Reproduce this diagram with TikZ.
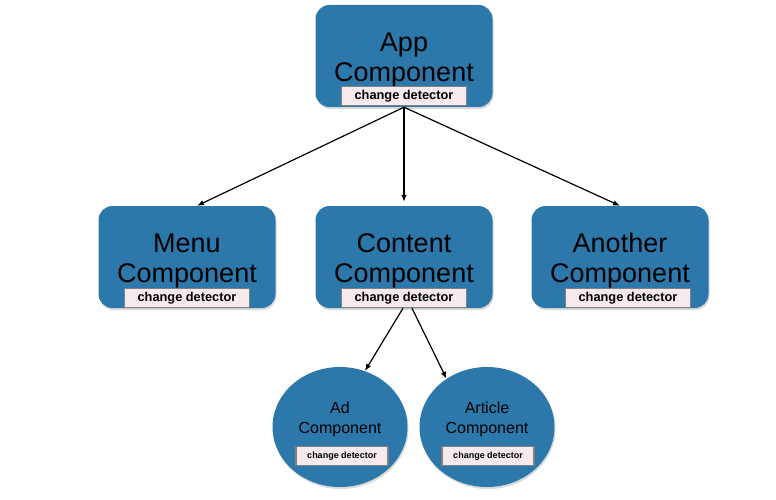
\documentclass[tikz,border=0pt]{standalone}
\usepackage{fontspec}
\setmainfont{Liberation Sans}
\usetikzlibrary{arrows.meta,shapes.geometric,shadows}
\definecolor{compblue}{RGB}{44,120,171}
\definecolor{cdpink}{RGB}{246,234,236}
\definecolor{cdgray}{RGB}{128,128,128}
\tikzset{
comp/.style={
  rectangle,
  rounded corners=14pt,
  fill=compblue,
  minimum width=177pt,
  minimum height=102pt,
  inner sep=0pt,
  drop shadow={opacity=0.3,shadow xshift=1pt,shadow yshift=-2pt}
  },
subcomp/.style={
  ellipse,
  fill=compblue,
  minimum width=135pt,
  minimum height=120pt,
  inner sep=0pt,
  drop shadow={opacity=0.3,shadow xshift=1pt,shadow yshift=-2pt}
  },
comptext/.style={
  align=center,
  inner sep=0pt,
  font=\fontsize{27}{30}\selectfont
  },
subtext/.style={
  align=center,
  inner sep=0pt,
  font=\fontsize{16}{19.5}\selectfont
  },
detector/.style={
  rectangle,
  draw=cdgray,
  line width=1.3pt,
  fill=cdpink,
  minimum width=125pt,
  minimum height=19pt,
  inner sep=0pt,
  font=\fontsize{12.8}{14}\selectfont\bfseries
  },
subdetector/.style={
  detector,
  minimum width=92pt,
  font=\fontsize{9}{11}\selectfont\bfseries
  },
link/.style={
  ->,
  line width=1.2pt
  }
}

\begin{document}
\begin{tikzpicture}[x=1pt,y=-1pt,>={Latex[length=7pt,width=5.5pt]}]
\useasboundingbox (0,0) rectangle (776,500);
% top
\node[comp] (app) at (404,56) {};
\node[comptext] (applabel) at (404,60) {App\\Component};
\node[detector] (appcd) at (404,96) {change detector};
% second row
\node[comp] (menu) at (187,257) {};
\node[comptext] (menulabel) at (187,261) {Menu\\Component};
\node[detector] (menucd) at (187,298) {change detector};
\node[comp] (content) at (404,257) {};
\node[comptext] (contentlabel) at (404,261) {Content\\Component};
\node[detector] (contentcd) at (404,298) {change detector};
\node[comp] (another) at (620,257) {};
\node[comptext] (anotherlabel) at (620,261) {Another\\Component};
\node[detector] (anothercd) at (628,298) {change detector};
% third row
\node[subcomp] (ad) at (340,427) {};
\node[subtext] (adlabel) at (340,419.5) {Ad\\Component};
\node[subdetector] (adcd) at (342,456) {change detector};
\node[subcomp] (article) at (487,427) {};
\node[subtext] (articlelabel) at (487,419.5) {Article\\Component};
\node[subdetector] (articlecd) at (488,456) {change detector};
% links
\draw[link] (app.south) -- (menu.79);
\draw[link,shorten >=4pt] (app.south) -- (content.north);
\draw[link] (app.south) -- (another.north);
\draw[link] ([xshift=-1pt]content.south) -- (ad.66);
\draw[link] ([xshift=8pt]content.south) -- (article.130);
\end{tikzpicture}
\end{document}
